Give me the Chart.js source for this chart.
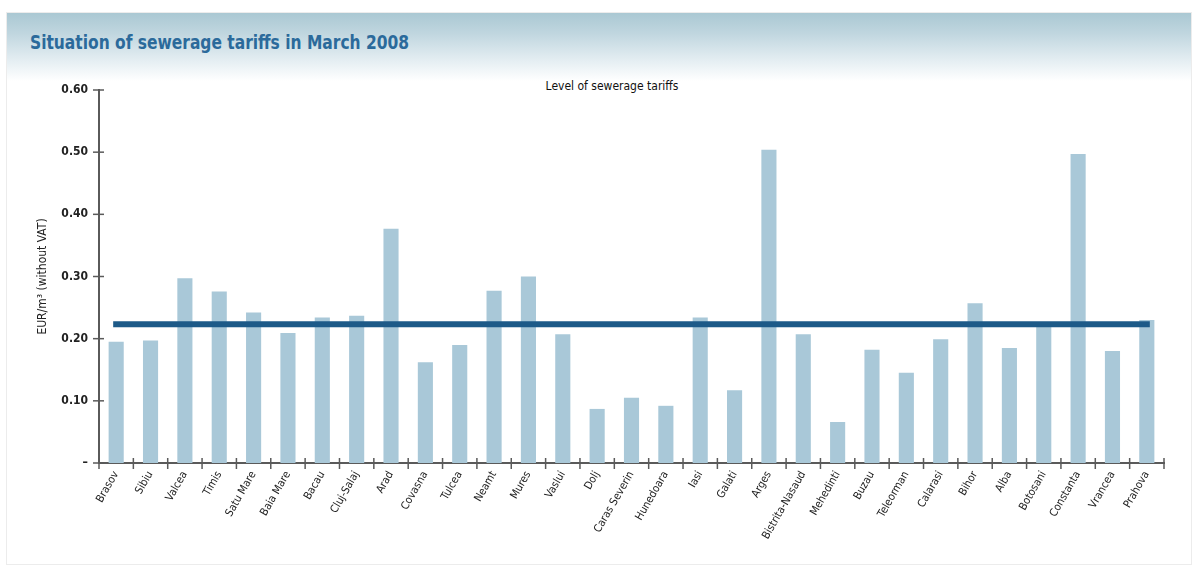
<!DOCTYPE html>
<html>
<head>
<meta charset="utf-8">
<script src="https://cdn.jsdelivr.net/npm/chart.js@4/dist/chart.umd.min.js"></script>
<style>
  html, body { margin: 0; padding: 0; background: #ffffff; }
  #wrap { position: relative; width: 1199px; height: 568px; overflow: hidden; }
  #frame { position: absolute; left: 6px; top: 12px; width: 1186px; height: 553px; border: 1px solid #ececec; box-sizing: border-box; }
  #banner { position: absolute; left: 7px; top: 13px; width: 1184px; height: 68px;
    background: linear-gradient(to bottom, #aac8d3 0%, #c0d6df 30%, #e0ebf0 65%, #ffffff 100%); }
  #title { position: absolute; left: 30px; top: 30px; font-family: "Liberation Sans Narrow", "DejaVu Sans Condensed", "Roboto Condensed", sans-serif;
    font-weight: bold; font-size: 20px; color: #2b6a9b; white-space: nowrap; transform: scaleX(0.86); transform-origin: left center; }
  #sub { position: absolute; left: 0; width: 1224px; top: 79px; text-align: center; font-family: "Liberation Sans Narrow", "DejaVu Sans Condensed", sans-serif;
    font-size: 12px; color: #111; white-space: nowrap; }
  #c { position: absolute; left: 0; top: 0; }
</style>
</head>
<body>
<div id="wrap">
  <div id="frame"></div>
  <div id="banner"></div>
  <div id="title">Situation of sewerage tariffs in March 2008</div>
  <div id="sub">Level of sewerage tariffs</div>
  <canvas id="c" width="1199" height="568"></canvas>
</div>
<script>
const categories = ["Brasov","Sibiu","Valcea","Timis","Satu Mare","Baia Mare","Bacau","Cluj-Salaj","Arad","Covasna","Tulcea","Neamt","Mures","Vaslui","Dolj","Caras Severin","Hunedoara","Iasi","Galati","Arges","Bistrita-Nasaud","Mehedinti","Buzau","Teleorman","Calarasi","Bihor","Alba","Botosani","Constanta","Vrancea","Prahova"];
const tariffs = [0.195,0.197,0.297,0.276,0.242,0.209,0.234,0.237,0.377,0.162,0.190,0.277,0.300,0.207,0.087,0.105,0.092,0.234,0.117,0.504,0.207,0.066,0.182,0.145,0.199,0.257,0.185,0.222,0.497,0.180,0.230];
const averageTariff = 0.223;
const yTicks = [0, 0.1, 0.2, 0.3, 0.4, 0.5, 0.6];
const yTitle = "EUR/m\u00B3 (without VAT)";

const FONT = "'Liberation Sans Narrow', 'DejaVu Sans Condensed', 'Roboto Condensed', sans-serif";
const AXIS = '#5a5a5a';

const crossTicks = {
  id: 'crossTicks',
  afterDatasetsDraw(chart) {
    const ctx = chart.ctx;
    const xs = chart.scales.x, ys = chart.scales.y;
    const ax = ys.left + ys.width;
    const ay = xs.top;
    ctx.save();
    ctx.strokeStyle = AXIS;
    ctx.lineWidth = 1.5;
    ys.ticks.forEach((t, i) => {
      const y = ys.getPixelForTick(i);
      ctx.beginPath(); ctx.moveTo(ax - 6, y); ctx.lineTo(ax + 5, y); ctx.stroke();
    });
    for (let i = 0; i <= categories.length; i++) {
      const x = xs.getPixelForValue(i - 0.5);
      ctx.beginPath(); ctx.moveTo(x, ay - 5); ctx.lineTo(x, ay + 6); ctx.stroke();
    }
    ctx.restore();
  }
};

new Chart(document.getElementById('c'), {
  data: {
    labels: categories,
    datasets: [
      {
        type: 'line',
        data: [{x: categories[0], y: averageTariff}, {x: categories[categories.length - 1], y: averageTariff}],
        borderColor: '#1d5a88',
        borderWidth: 6,
        borderCapStyle: 'square',
        pointRadius: 0,
        order: 0
      },
      {
        type: 'bar',
        data: tariffs,
        backgroundColor: '#a9c8d8',
        barPercentage: 0.44,
        categoryPercentage: 1.0,
        order: 1
      }
    ]
  },
  options: {
    responsive: false,
    animation: false,
    events: [],
    layout: { padding: { left: 24, right: 35, top: 90, bottom: 0 } },
    plugins: { legend: { display: false }, tooltip: { enabled: false }, title: { display: false } },
    scales: {
      x: {
        type: 'category',
        offset: true,
        grid: { display: false, drawTicks: false },
        border: { display: true, color: AXIS, width: 2 },
        ticks: {
          autoSkip: false, minRotation: 60, maxRotation: 60, padding: 6,
          color: '#222', font: { family: FONT, size: 11 }
        },
        afterFit(s) { s.height = 105; }
      },
      y: {
        min: 0, max: 0.6,
        afterBuildTicks(s) { s.ticks = yTicks.map(v => ({ value: v })); },
        grid: { display: false, drawTicks: false },
        border: { display: true, color: AXIS, width: 2 },
        ticks: {
          padding: 11, color: '#222', font: { family: FONT, size: 12, weight: 'bold' },
          callback: v => v === 0 ? '\u2013' : v.toFixed(2)
        },
        title: { display: true, text: yTitle, color: '#222', font: { family: FONT, size: 12 }, padding: { top: 12, bottom: 0 } },
        afterFit(s) { s.width = 75; }
      }
    }
  },
  plugins: [crossTicks]
});
</script>
</body>
</html>
